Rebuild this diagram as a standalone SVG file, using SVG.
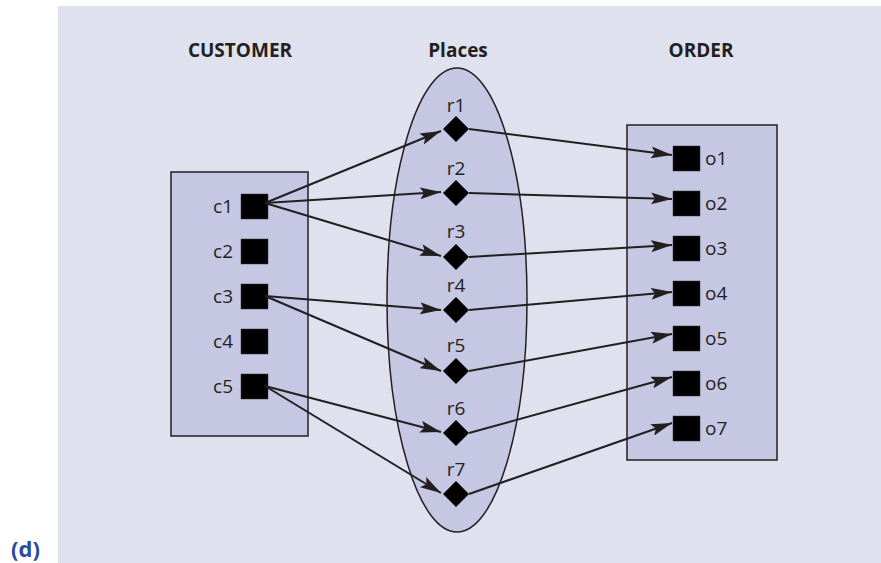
<svg xmlns="http://www.w3.org/2000/svg" width="881" height="563" viewBox="0 0 881 563">
<defs>
<style>
.panel{fill:#dfe1ef}
.box{fill:#c5c7e3;stroke:#231f20;stroke-width:1.5}
.sq{fill:#000;stroke:#3a3a3a;stroke-width:0.5}
.dia{fill:#000}
.lbl{font-family:"Open Sans","Liberation Sans",sans-serif;font-size:19px;fill:#231f20}
.ttl{font-family:"Open Sans","Liberation Sans",sans-serif;font-size:19px;font-weight:bold;fill:#231f20;text-anchor:middle}
.edge{stroke:#231f20;stroke-width:2;fill:none;marker-end:url(#arr)}
</style>
<marker id="arr" markerUnits="userSpaceOnUse" markerWidth="22" markerHeight="12" refX="21" refY="6" orient="auto">
<path d="M0,0 L21,6 L0,12 L4,6 z" fill="#231f20"/>
</marker>
</defs>
<rect class="panel" x="58" y="6" width="823" height="557"/>
<text x="11" y="557" font-family="Open Sans, Liberation Sans, sans-serif" font-size="22" font-weight="bold" fill="#2b4b9b">(d)</text>
<text class="ttl" x="240" y="57">CUSTOMER</text>
<text class="ttl" x="458" y="57">Places</text>
<text class="ttl" x="701" y="57">ORDER</text>

<g id="customer">
<rect class="box" x="171" y="172" width="137" height="264"/>
</g>
<g id="places">
<ellipse class="box" cx="457" cy="300" rx="70" ry="232"/>
</g>
<g id="order">
<rect class="box" x="627" y="125" width="150" height="335"/>
</g>

<g id="c1"><rect class="sq" x="241" y="194" width="27" height="25"/><text class="lbl" x="233" y="213" text-anchor="end">c1</text></g>
<g id="c2"><rect class="sq" x="241" y="239" width="27" height="25"/><text class="lbl" x="233" y="258" text-anchor="end">c2</text></g>
<g id="c3"><rect class="sq" x="241" y="284" width="27" height="25"/><text class="lbl" x="233" y="303" text-anchor="end">c3</text></g>
<g id="c4"><rect class="sq" x="241" y="329" width="27" height="25"/><text class="lbl" x="233" y="348" text-anchor="end">c4</text></g>
<g id="c5"><rect class="sq" x="241" y="374" width="27" height="25"/><text class="lbl" x="233" y="393" text-anchor="end">c5</text></g>

<g id="r1"><path class="dia" d="M456,116 L469,129 L456,142 L443,129 z"/><text class="lbl" x="456" y="112" text-anchor="middle">r1</text></g>
<g id="r2"><path class="dia" d="M456,180 L469,193 L456,206 L443,193 z"/><text class="lbl" x="456" y="175" text-anchor="middle">r2</text></g>
<g id="r3"><path class="dia" d="M456,244 L469,257 L456,270 L443,257 z"/><text class="lbl" x="456" y="238" text-anchor="middle">r3</text></g>
<g id="r4"><path class="dia" d="M456,297 L469,310 L456,323 L443,310 z"/><text class="lbl" x="456" y="292" text-anchor="middle">r4</text></g>
<g id="r5"><path class="dia" d="M456,358 L469,371 L456,384 L443,371 z"/><text class="lbl" x="456" y="352" text-anchor="middle">r5</text></g>
<g id="r6"><path class="dia" d="M456,420 L469,433 L456,446 L443,433 z"/><text class="lbl" x="456" y="415" text-anchor="middle">r6</text></g>
<g id="r7"><path class="dia" d="M456,481 L469,494 L456,507 L443,494 z"/><text class="lbl" x="456" y="476" text-anchor="middle">r7</text></g>

<g id="o1"><rect class="sq" x="673" y="146" width="27" height="25"/><text class="lbl" x="705" y="165">o1</text></g>
<g id="o2"><rect class="sq" x="673" y="191" width="27" height="25"/><text class="lbl" x="705" y="210">o2</text></g>
<g id="o3"><rect class="sq" x="673" y="236" width="27" height="25"/><text class="lbl" x="705" y="255">o3</text></g>
<g id="o4"><rect class="sq" x="673" y="281" width="27" height="25"/><text class="lbl" x="705" y="300">o4</text></g>
<g id="o5"><rect class="sq" x="673" y="326" width="27" height="25"/><text class="lbl" x="705" y="345">o5</text></g>
<g id="o6"><rect class="sq" x="673" y="371" width="27" height="25"/><text class="lbl" x="705" y="390">o6</text></g>
<g id="o7"><rect class="sq" x="673" y="416" width="27" height="25"/><text class="lbl" x="705" y="435">o7</text></g>

<g id="connectors">
<line class="edge" x1="265" y1="203" x2="441" y2="131"/>
<line class="edge" x1="265" y1="203" x2="441" y2="192"/>
<line class="edge" x1="265" y1="203" x2="441" y2="256"/>
<line class="edge" x1="265" y1="296" x2="441" y2="310"/>
<line class="edge" x1="265" y1="296" x2="441" y2="371"/>
<line class="edge" x1="265" y1="386" x2="441" y2="432"/>
<line class="edge" x1="265" y1="386" x2="441" y2="493"/>
<line class="edge" x1="469" y1="129" x2="672" y2="155"/>
<line class="edge" x1="469" y1="193" x2="672" y2="199"/>
<line class="edge" x1="469" y1="257" x2="672" y2="245"/>
<line class="edge" x1="469" y1="310" x2="672" y2="292"/>
<line class="edge" x1="469" y1="371" x2="672" y2="334"/>
<line class="edge" x1="469" y1="433" x2="672" y2="377"/>
<line class="edge" x1="469" y1="494" x2="672" y2="423"/>
</g>
</svg>
